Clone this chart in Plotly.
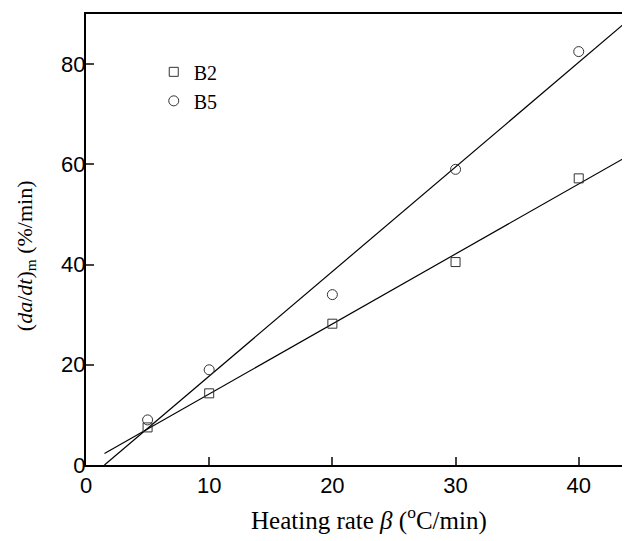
import numpy as np
import plotly.graph_objects as go

heating_rate = [5, 10, 20, 30, 40]
b2_values = [7.5, 14.3, 28.2, 40.5, 57.2]
b5_values = [9.0, 19.0, 34.0, 59.0, 82.5]
fit_x_range = [1.5, 44]
x_ticks = [0, 10, 20, 30, 40]
y_ticks = [0, 20, 40, 60, 80]

fig = go.Figure()

for name, vals in [("B2", b2_values), ("B5", b5_values)]:
    k, b = np.polyfit(heating_rate, vals, 1)
    xs = np.array(fit_x_range)
    fig.add_trace(go.Scatter(x=xs, y=k * xs + b, mode="lines",
                             line=dict(color="black", width=1.2),
                             showlegend=False, hoverinfo="skip"))

fig.add_trace(go.Scatter(x=heating_rate, y=b2_values, mode="markers", name="B2",
                         marker=dict(symbol="square-open", size=9, color="#333",
                                     line=dict(width=1))))
fig.add_trace(go.Scatter(x=heating_rate, y=b5_values, mode="markers", name="B5",
                         marker=dict(symbol="circle-open", size=10, color="#333",
                                     line=dict(width=1))))

serif = "Liberation Serif, Times New Roman"

fig.add_annotation(text="Heating rate <i>β</i> (<sup>o</sup>C/min)",
                   xref="paper", yref="paper", x=0.522, y=0, yanchor="middle",
                   yshift=-53, showarrow=False, font=dict(family=serif, size=25))
fig.add_annotation(text="(<i>da</i>/<i>dt</i>)<sub>m</sub> (%/min)",
                   xref="paper", yref="paper", x=0, y=0.463, xanchor="center",
                   xshift=-60, textangle=-90, showarrow=False,
                   font=dict(family=serif, size=22))

fig.update_layout(
    width=622, height=533,
    margin=dict(l=78, r=2, t=6, b=76),
    paper_bgcolor="white", plot_bgcolor="white",
    font=dict(family="Liberation Sans, Arial", size=22, color="black"),
    legend=dict(x=0.125, y=0.915, xanchor="left", yanchor="top",
                font=dict(family=serif, size=20),
                bgcolor="rgba(0,0,0,0)", itemwidth=30),
    xaxis=dict(range=[0, 44], tickvals=x_ticks, ticks="inside", ticklen=8,
               tickwidth=1.5, showline=True, linewidth=2, linecolor="black",
               mirror=True, showgrid=False, zeroline=False),
    yaxis=dict(range=[0, 90], tickvals=y_ticks, ticks="inside", ticklen=8,
               tickwidth=1.5, showline=True, linewidth=2, linecolor="black",
               showgrid=False, zeroline=False, ticklabelstandoff=-6),
)

fig.write_html("out.html")
